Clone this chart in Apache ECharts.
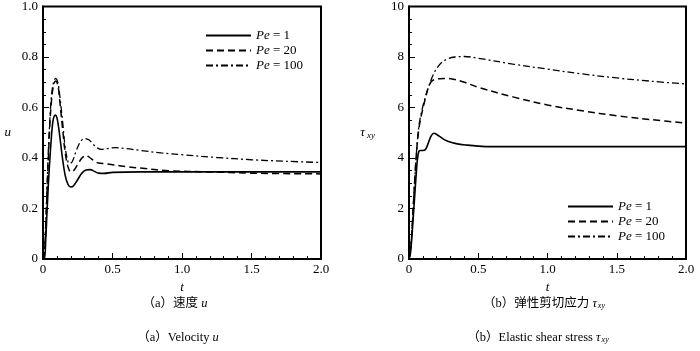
<!DOCTYPE html>
<html><head><meta charset="utf-8">
<script src="https://cdn.jsdelivr.net/npm/echarts@6/dist/echarts.min.js"></script>
<style>html,body{margin:0;padding:0;background:#fff}#c{width:700px;height:351px}</style>
</head><body><div id="c"></div><script>
// ---- Data: (a) velocity u ----
const seriesNames = ['Pe = 1', 'Pe = 20', 'Pe = 100'];
const xTickLabels = ['0', '0.5', '1.0', '1.5', '2.0'];
const uTickLabels = ['0', '0.2', '0.4', '0.6', '0.8', '1.0'];
const tauTickLabels = ['0', '2', '4', '6', '8', '10'];

const tU_pe1 = [0, 0.01, 0.02, 0.03, 0.04, 0.05, 0.06, 0.07, 0.08, 0.09, 0.10, 0.11, 0.12, 0.14, 0.16, 0.18, 0.20, 0.22, 0.25, 0.28, 0.31, 0.34, 0.37, 0.40, 0.44, 0.5, 0.7, 1.0, 1.5, 2.0];
const u_pe1  = [0, 0.0, 0.08, 0.2, 0.31, 0.40, 0.48, 0.54, 0.565, 0.57, 0.56, 0.53, 0.49, 0.40, 0.33, 0.295, 0.285, 0.29, 0.315, 0.34, 0.352, 0.354, 0.347, 0.34, 0.339, 0.343, 0.345, 0.345, 0.345, 0.345];

const tU_pe20 = [0, 0.01, 0.02, 0.03, 0.04, 0.05, 0.06, 0.07, 0.08, 0.09, 0.10, 0.11, 0.12, 0.14, 0.16, 0.18, 0.20, 0.22, 0.25, 0.28, 0.31, 0.34, 0.37, 0.40, 0.45, 0.5, 0.6, 0.7, 0.9, 1.2, 1.5, 2.0];
const u_pe20  = [0, 0.02, 0.12, 0.28, 0.42, 0.54, 0.62, 0.67, 0.695, 0.705, 0.70, 0.68, 0.63, 0.52, 0.42, 0.365, 0.345, 0.35, 0.375, 0.40, 0.41, 0.40, 0.388, 0.38, 0.377, 0.373, 0.366, 0.36, 0.35, 0.345, 0.34, 0.337];

const tU_pe100 = [0, 0.01, 0.02, 0.03, 0.04, 0.05, 0.06, 0.07, 0.08, 0.09, 0.10, 0.11, 0.12, 0.14, 0.16, 0.18, 0.19, 0.21, 0.24, 0.27, 0.30, 0.33, 0.36, 0.39, 0.42, 0.46, 0.52, 0.6, 0.7, 0.85, 1.0, 1.25, 1.5, 1.75, 2.0];
const u_pe100  = [0, 0.03, 0.15, 0.3, 0.45, 0.56, 0.64, 0.685, 0.705, 0.715, 0.71, 0.69, 0.65, 0.55, 0.44, 0.385, 0.378, 0.385, 0.43, 0.465, 0.477, 0.472, 0.455, 0.44, 0.434, 0.437, 0.441, 0.437, 0.43, 0.42, 0.413, 0.402, 0.393, 0.387, 0.382];

// ---- Data: (b) elastic shear stress tau_xy ----
const tT_pe1 = [0, 0.01, 0.02, 0.03, 0.04, 0.05, 0.06, 0.07, 0.08, 0.10, 0.12, 0.14, 0.16, 0.18, 0.20, 0.24, 0.28, 0.34, 0.42, 0.5, 0.6, 1.0, 1.5, 2.0];
const tau_pe1 = [0, 0.2, 0.8, 1.6, 2.4, 3.2, 3.9, 4.25, 4.3, 4.3, 4.35, 4.6, 4.88, 4.98, 4.93, 4.78, 4.66, 4.57, 4.51, 4.47, 4.45, 4.45, 4.45, 4.45];

const tT_pe20 = [0, 0.01, 0.02, 0.03, 0.04, 0.05, 0.06, 0.07, 0.08, 0.10, 0.12, 0.14, 0.16, 0.18, 0.22, 0.27, 0.32, 0.4, 0.5, 0.75, 1.0, 1.25, 1.5, 1.75, 2.0];
const tau_pe20 = [0, 0.3, 1.0, 2.0, 3.0, 3.9, 4.6, 5.1, 5.45, 5.95, 6.4, 6.8, 7.02, 7.1, 7.14, 7.15, 7.12, 7.0, 6.8, 6.42, 6.1, 5.87, 5.67, 5.52, 5.38];

const tT_pe100 = [0, 0.01, 0.02, 0.03, 0.04, 0.05, 0.06, 0.07, 0.08, 0.10, 0.12, 0.14, 0.16, 0.18, 0.20, 0.24, 0.28, 0.33, 0.4, 0.5, 0.75, 1.0, 1.25, 1.5, 1.75, 2.0];
const tau_pe100 = [0, 0.3, 1.0, 2.0, 3.0, 3.9, 4.65, 5.2, 5.55, 6.05, 6.45, 6.8, 7.1, 7.35, 7.55, 7.8, 7.93, 8.0, 8.02, 7.95, 7.72, 7.52, 7.33, 7.17, 7.04, 6.93];

const pairs = (xs, ys) => xs.map((x, i) => [x, ys[i]]);

const SERIF = "'Liberation Serif', 'Times New Roman', 'Noto Sans CJK SC', serif";
const lineStyles = [
  { color: '#000', width: 1.6, type: 'solid' },
  { color: '#000', width: 1.5, type: [7, 4] },
  { color: '#000', width: 1.3, type: [7, 3, 2, 3] }
];

function mk(name, idx, data, ls) {
  return { name, type: 'line', xAxisIndex: idx, yAxisIndex: idx, data, showSymbol: false, symbol: 'none',
           smooth: 0.35, lineStyle: ls, itemStyle: { color: '#000' }, animation: false, silent: true };
}

function xAx(idx) {
  return {
    type: 'value', gridIndex: idx, min: 0, max: 2, interval: 0.5,
    name: 't', nameLocation: 'middle', nameGap: 14,
    nameTextStyle: { fontFamily: SERIF, fontStyle: 'italic', fontSize: 13, color: '#000' },
    axisLine: { show: true, lineStyle: { color: '#000', width: 2 } },
    axisTick: { show: true, inside: true, length: 6, lineStyle: { color: '#000', width: 1 } },
    minorTick: { show: true, splitNumber: 5, length: 3, lineStyle: { color: '#000', width: 1 } },
    splitLine: { show: false },
    axisLabel: { fontFamily: SERIF, fontSize: 13, color: '#000', margin: 4,
                 formatter: (v) => xTickLabels[Math.round(v / 0.5)] }
  };
}
function yAx(idx, max, interval, labels, name) {
  return {
    type: 'value', gridIndex: idx, min: 0, max, interval,
    name, nameLocation: 'middle', nameGap: idx === 0 ? 32 : 34, nameRotate: 0,
    nameTextStyle: { fontFamily: SERIF, fontStyle: 'italic', fontSize: 13, color: '#000',
      rich: { s: { fontFamily: SERIF, fontStyle: 'italic', fontSize: 9, color: '#000', verticalAlign: 'bottom', padding: [6, 0, 0, 2] },
              g: { fontFamily: SERIF, fontStyle: 'italic', fontSize: 13, color: '#000' } } },
    axisLine: { show: true, lineStyle: { color: '#000', width: 2 } },
    axisTick: { show: true, inside: true, length: 6, lineStyle: { color: '#000', width: 1 } },
    minorTick: { show: true, splitNumber: 4, length: 3, lineStyle: { color: '#000', width: 1 } },
    splitLine: { show: false },
    axisLabel: { fontFamily: SERIF, fontSize: 13, color: '#000', margin: 5,
                 formatter: (v) => labels[Math.round(v / interval)] }
  };
}

function legend(left, top) {
  return {
    data: seriesNames, orient: 'vertical', left, top, itemWidth: 45, itemHeight: 8, itemGap: 2,
    selectedMode: false, padding: 0,
    itemStyle: { opacity: 0 },
    formatter: (n) => '{i|Pe} = ' + n.split('= ')[1],
    textStyle: { fontFamily: SERIF, fontSize: 13, color: '#000', lineHeight: 13,
      rich: { i: { fontFamily: SERIF, fontStyle: 'italic', fontSize: 13, color: '#000', lineHeight: 13 } } }
  };
}

const capRich = {
  i: { fontFamily: SERIF, fontStyle: 'italic', fontSize: 12.5, color: '#000' },
  s: { fontFamily: SERIF, fontStyle: 'italic', fontSize: 8, color: '#000', verticalAlign: 'bottom', padding: [5, 0, 0, 1] }
};
function cap(text, x, y) {
  return { text, left: x, top: y, textAlign: 'center', padding: 0,
    textStyle: { fontFamily: SERIF, fontSize: 12.5, fontWeight: 'normal', color: '#000', rich: capRich } };
}

const chart = echarts.init(document.getElementById('c'), null, { renderer: 'canvas' });
chart.setOption({
  backgroundColor: '#fff',
  animation: false,
  textStyle: { fontFamily: SERIF },
  grid: [
    { left: 43, right: 379, top: 6, bottom: 92, show: true, borderColor: '#000', borderWidth: 2, backgroundColor: 'transparent' },
    { left: 409, right: 14, top: 6, bottom: 92, show: true, borderColor: '#000', borderWidth: 2, backgroundColor: 'transparent' }
  ],
  xAxis: [xAx(0), xAx(1)],
  yAxis: [yAx(0, 1, 0.2, uTickLabels, 'u'), yAx(1, 10, 2, tauTickLabels, '{g|τ}{s|xy}')],
  legend: [legend(205, 29), legend(567, 200)],
  title: [
    cap('（a）速度 {i|u}', 175, 297),
    cap('（a）Velocity {i|u}', 178, 331),
    cap('（b）弹性剪切应力 {i|τ}{s|xy}', 544, 297),
    cap('（b）Elastic shear stress {i|τ}{s|xy}', 538, 331)
  ],
  series: [
    mk(seriesNames[0], 0, pairs(tU_pe1, u_pe1), lineStyles[0]),
    mk(seriesNames[1], 0, pairs(tU_pe20, u_pe20), lineStyles[1]),
    mk(seriesNames[2], 0, pairs(tU_pe100, u_pe100), lineStyles[2]),
    mk(seriesNames[0], 1, pairs(tT_pe1, tau_pe1), lineStyles[0]),
    mk(seriesNames[1], 1, pairs(tT_pe20, tau_pe20), lineStyles[1]),
    mk(seriesNames[2], 1, pairs(tT_pe100, tau_pe100), lineStyles[2])
  ]
});
</script></body></html>
